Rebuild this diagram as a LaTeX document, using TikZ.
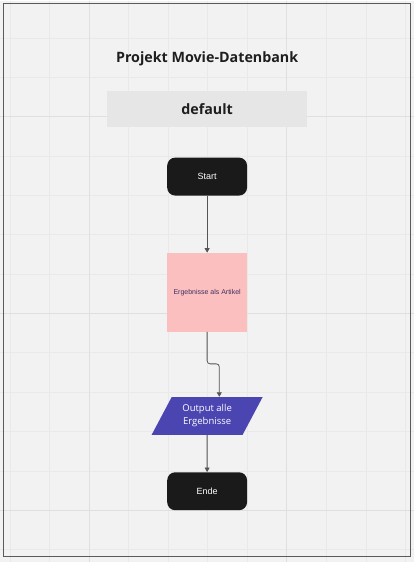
\documentclass[tikz,border=0pt]{standalone}
\usepackage{fontspec}
\usepackage{xcolor}
\usetikzlibrary{arrows.meta,positioning,shapes.geometric}
\newfontfamily\mvtitlefont{Open Sans}
\newfontfamily\mvboxfont{Liberation Sans}
\definecolor{mvpaper}{HTML}{F2F2F2}
\definecolor{mvgrid}{HTML}{E9E9E9}
\definecolor{mvgridmajor}{HTML}{DFDFDF}
\definecolor{mvframe}{HTML}{5A5A5A}
\definecolor{mvheader}{HTML}{E6E6E6}
\definecolor{mvink}{HTML}{1E1E1E}
\definecolor{mvterm}{HTML}{1A1A1A}
\definecolor{mvpink}{HTML}{FBBFBF}
\definecolor{mvpurple}{HTML}{4A45B1}
\definecolor{mvplum}{HTML}{3F3060}
\definecolor{mvarrow}{HTML}{555555}
\begin{document}
\begin{tikzpicture}[x=1pt, y=-1pt,
  term/.style={fill=mvterm, rounded corners=8pt, text=white,
               font=\mvboxfont\fontsize{9}{11}\selectfont,
               minimum width=80pt, minimum height=38pt, inner sep=0pt},
  proc/.style={fill=mvpink, text=mvplum, font=\mvboxfont\fontsize{7}{9}\selectfont,
               minimum width=80pt, minimum height=79pt, inner sep=0pt},
  io/.style={trapezium, trapezium left angle=58, trapezium right angle=122,
             trapezium stretches=true, fill=mvpurple, text=white, align=center,
             font=\mvtitlefont\fontsize{9.5}{13}\selectfont,
             minimum width=112pt, minimum height=38pt, inner sep=0pt},
  ar/.style={-{Triangle[length=4.5pt, width=5pt]}, mvarrow, line width=0.8pt},
]
% paper and grid
\fill[mvpaper] (0,0) rectangle (414,562);
\foreach \gx in {9.8,49.4,128.6,168.2,207.8,247.4,326.6,366.2,405.8}
  \draw[mvgrid, line width=0.9pt] (\gx,0) -- (\gx,562);
\foreach \gy in {37.6,77,156,195.4,234.8,274.3,353,392.6,432,471.5,550.4}
  \draw[mvgrid, line width=0.9pt] (0,\gy) -- (414,\gy);
\foreach \gx in {89,287}
  \draw[mvgridmajor, line width=1pt] (\gx,0) -- (\gx,562);
\foreach \gy in {116.5,313.7,511}
  \draw[mvgridmajor, line width=1pt] (0,\gy) -- (414,\gy);
\draw[mvframe, line width=1pt] (3.5,3.5) rectangle (410.5,557);

% header
\node[font=\mvtitlefont\bfseries\fontsize{14.3}{17}\selectfont, text=mvink] (title) at (207,58)
  {Projekt Movie-Datenbank};
\node[fill=mvheader, minimum width=200pt, minimum height=36pt, inner sep=0pt,
      font=\mvtitlefont\bfseries\fontsize{14.3}{17}\selectfont, text=mvink] (lane) at (207,109)
  {default};

% flow
\node[term, below=30pt of lane] (start) {Start};
\node[proc, below=57pt of start] (erg) {Ergebnisse als Artikel};
\node[io, below=65pt of erg] (out) {Output alle\\Ergebnisse};
\node[term, below=37pt of out] (ende) {Ende};

\draw[ar] (start) -- (erg);
\draw[ar, rounded corners=3pt] (erg.south) -- ++(0,32) -| ([xshift=2pt]out.top side);
\draw[ar] (out) -- (ende);
\end{tikzpicture}
\end{document}
